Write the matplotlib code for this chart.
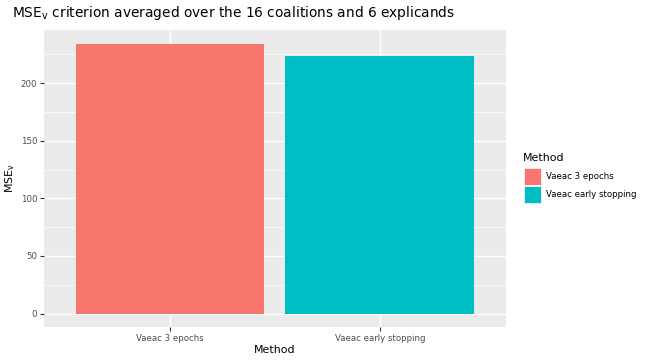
import matplotlib
matplotlib.use("Agg")
import matplotlib.pyplot as plt
from matplotlib.patches import Rectangle

methods = ["Vaeac 3 epochs", "Vaeac early stopping"]
mse_values = [234.5, 223.3]
colors = ["#F8766D", "#00BFC4"]
yticks = [0, 50, 100, 150, 200]

fig = plt.figure(figsize=(6.48, 3.6), dpi=100)
ax = fig.add_axes([44/648, 1-327/360, (506-44)/648, (327-30)/360])
ax.set_facecolor("#EBEBEB")
x = list(range(1, len(methods)+1))
ax.bar(x, mse_values, width=0.9, color=colors, zorder=3)
ax.set_xlim(0.4, 2.6)
top = max(mse_values)
ax.set_ylim(-0.05*top, top*1.05)
ax.set_yticks(yticks)
ax.set_yticks([25, 75, 125, 175, 225], minor=True)
ax.set_xticks(x)
ax.set_xticklabels(methods)
ax.grid(True, which="major", color="white", linewidth=1.0, zorder=0)
ax.grid(True, which="minor", axis="y", color="white", linewidth=0.5, zorder=0)
ax.tick_params(which="minor", length=0)
ax.tick_params(which="major", length=3, width=0.8, color="#333333", labelsize=6.2, labelcolor="#4D4D4D", pad=2)
for s in ax.spines.values():
    s.set_visible(False)
ax.set_xlabel("Method", fontsize=7.9, labelpad=1.5)
ax.set_ylabel(r"MSE$_\mathregular{v}$", fontsize=7.9, labelpad=2.5)
fig.text(12/648, 1-13/360, r"MSE$_\mathregular{v}$ criterion averaged over the 16 coalitions and 6 explicands",
         fontsize=9.9, va="center", ha="left")

# legend
fig.text(523/648, 1-158/360, "Method", fontsize=7.9, va="center", ha="left")
for i, (m, c) in enumerate(zip(methods, colors)):
    y0 = 168 + i*18
    fig.add_artist(Rectangle((524/648, 1-(y0+17)/360), 17/648, 17/360, transform=fig.transFigure,
                             facecolor=c, edgecolor="white", linewidth=0.5))
    fig.text(546/648, 1-(y0+8.5)/360, m, fontsize=6.2, va="center", ha="left", color="black")

fig.savefig("out.png", dpi=100)
